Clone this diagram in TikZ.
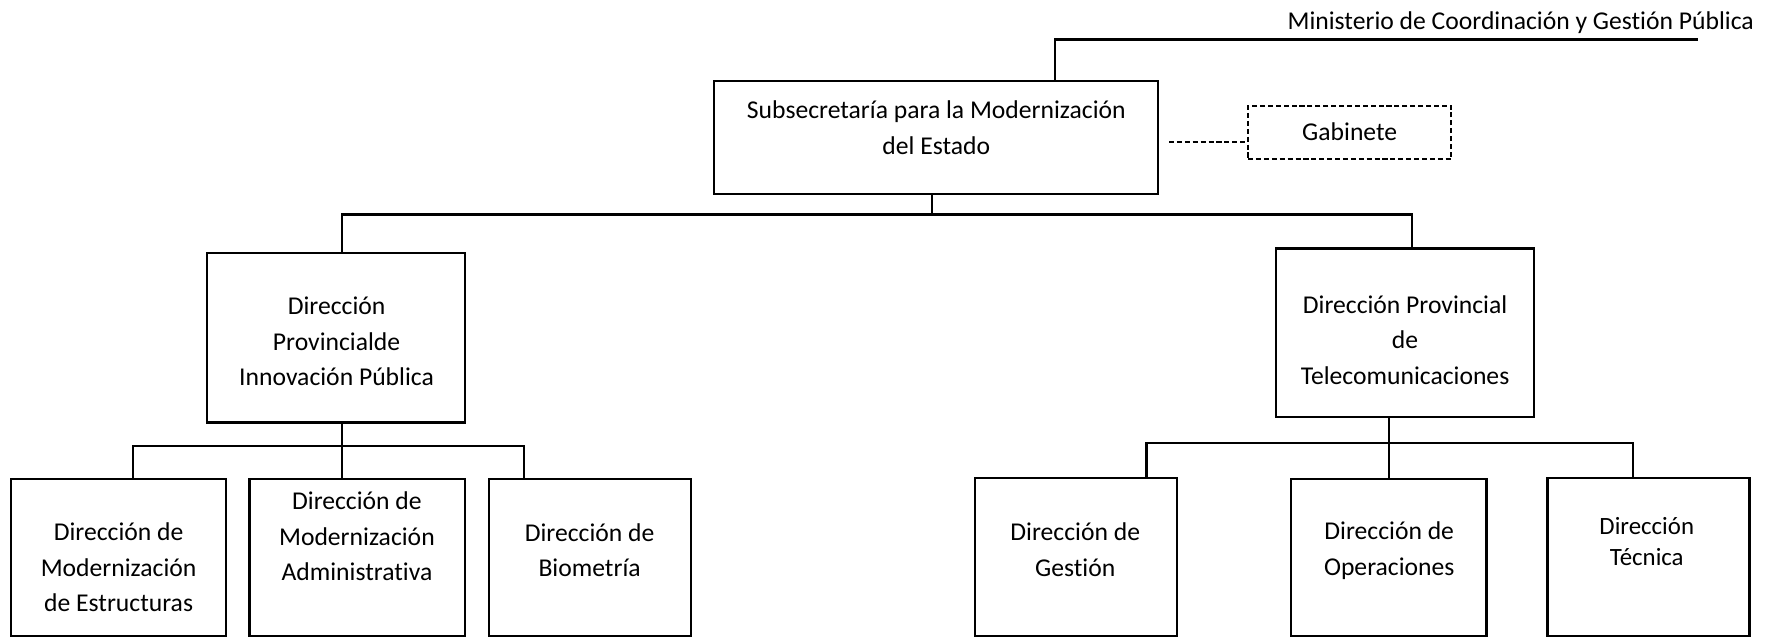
\documentclass[tikz,border=0pt]{standalone}
\usepackage{fontspec}
\setmainfont{Carlito}[Ligatures=NoCommon]
\begin{document}
\begin{tikzpicture}[x=1pt,y=-1pt,
  box/.style={draw,line width=2pt,inner sep=0pt},
  conn/.style={line width=2pt},
  dbox/.style={draw,line width=1.7pt,dash pattern=on 4.5pt off 2.5pt,inner sep=0pt},
  txt/.style={font=\fontsize{22.7}{31.5}\selectfont,align=center,inner sep=0pt,anchor=center}]
\useasboundingbox (0,0) rectangle (1568,565);
% boxes
\node[box,minimum width=393pt,minimum height=100pt] (sub) at (828.5,122) {};
\node[dbox,minimum width=180pt,minimum height=47pt] (gab) at (1195,117.5) {};
\node[box,minimum width=229pt,minimum height=150pt] (dpl) at (297.5,299) {};
\node[box,minimum width=228pt,minimum height=149pt] (dpr) at (1244,294.5) {};
\node[box,minimum width=190pt,minimum height=139pt] (c1) at (105,493.5) {};
\node[box,minimum width=191pt,minimum height=139pt] (c2) at (316.5,493.5) {};
\node[box,minimum width=179pt,minimum height=139pt] (c3) at (522.5,493.5) {};
\node[box,minimum width=179pt,minimum height=140pt] (r1) at (952.5,493) {};
\node[box,minimum width=173pt,minimum height=139pt] (r2) at (1229.5,493.5) {};
\node[box,minimum width=179pt,minimum height=140pt] (r3) at (1459.5,493) {};
% texts
\node[txt,anchor=east] (tmin) at (1553,20) {Ministerio de Coordinación y Gestión Pública};
\node[txt] (tsub) at (829,113) {Subsecretaría para la Modernización\\del Estado};
\node[txt] (tgab) at (1195,117) {Gabinete};
\node[txt] (tdpl) at (298,302.5) {Dirección\\Provincialde\\Innovación Pública};
\node[txt] (tdpr) at (1244,301) {Dirección Provincial\\de\\Telecomunicaciones};
\node[txt] (tc1) at (105,502.5) {Dirección de\\Modernización\\de Estructuras};
\node[txt] (tc2) at (316,475) {Dirección de\\Modernización\\Administrativa};
\node[txt] (tc3) at (522,487) {Dirección de\\Biometría};
\node[txt] (tr1) at (952,486.5) {Dirección de\\Gestión};
\node[txt] (tr2) at (1230,487.5) {Dirección de\\Operaciones};
\node[txt,font=\fontsize{22}{27}\selectfont] (tr3) at (1458,479.5) {Dirección\\Técnica};
% junction coordinates
\coordinate (mx) at (934,35);
\coordinate (mend) at (1503,35);
\coordinate (t0) at (825,190);
\coordinate (tl) at (303,190);
\coordinate (tr) at (1250,190);
\coordinate (l0) at (303,395);
\coordinate (l1) at (118,395);
\coordinate (l3) at (464,395);
\coordinate (r0) at (1230,392);
\coordinate (rr1) at (1015,392);
\coordinate (rr3) at (1446,392);
\coordinate (gd) at (1035,126);
% connectors
\draw[conn] (mx |- sub.north) -- (mx) -- (mend);
\draw[dbox] (gd) -- (gab.west |- gd);
\draw[conn] (t0 |- sub.south) -- (t0);
\draw[conn] (tl |- dpl.north) -- (tl) -- (tr) -- (tr |- dpr.north);
\draw[conn] (l0 |- dpl.south) -- (l0 |- c2.north);
\draw[conn] (l1 |- c1.north) -- (l1) -- (l3) -- (l3 |- c3.north);
\draw[conn] (r0 |- dpr.south) -- (r0 |- r2.north);
\draw[conn] (rr1 |- r1.north) -- (rr1) -- (rr3) -- (rr3 |- r3.north);
\end{tikzpicture}
\end{document}
